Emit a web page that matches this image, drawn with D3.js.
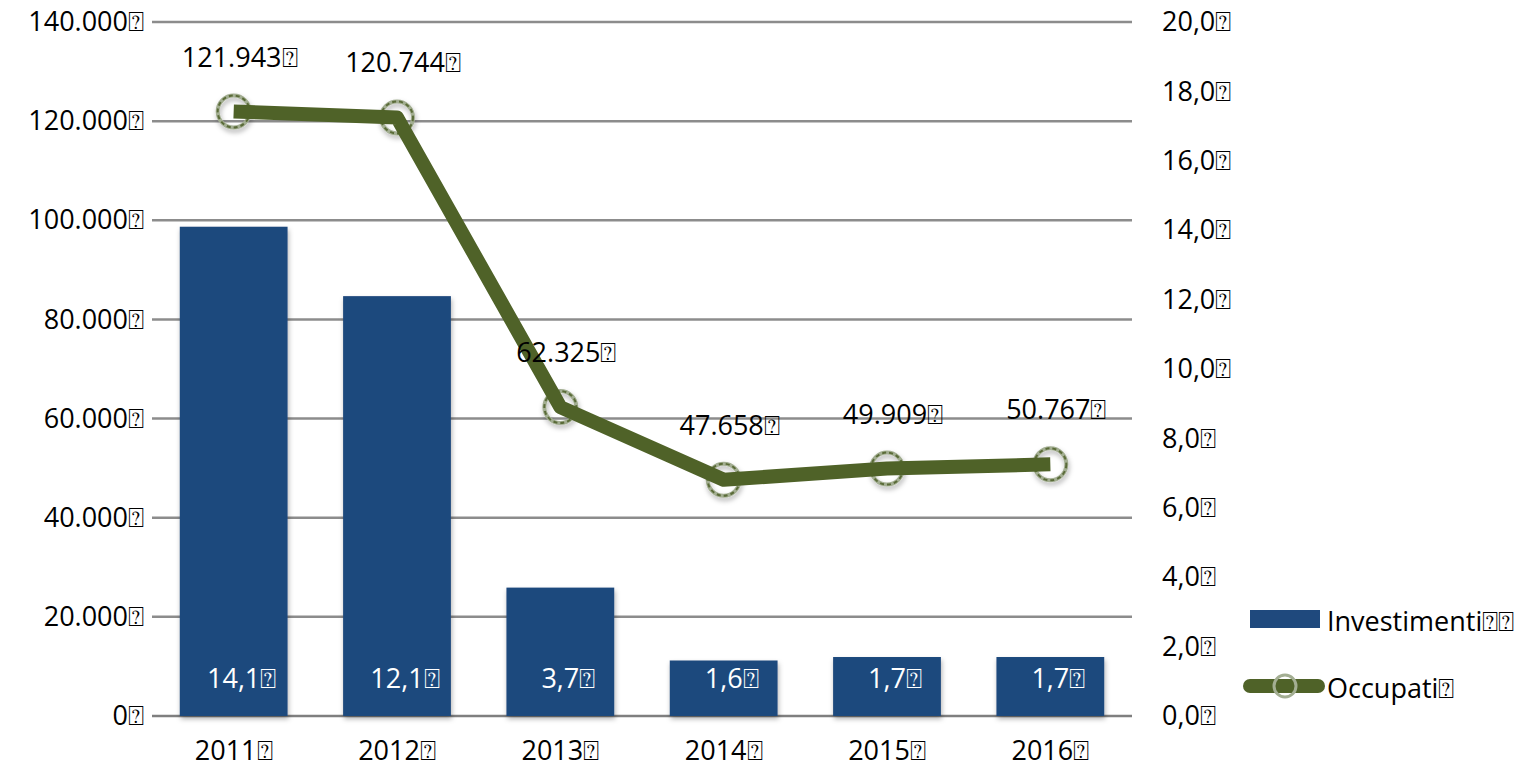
<!DOCTYPE html>
<html>
<head>
<meta charset="utf-8">
<script src="https://cdn.jsdelivr.net/npm/d3@7"></script>
<style>
  body { margin: 0; background: #fff; }
  svg text { font-family: "Open Sans", sans-serif; fill: #000; }
</style>
</head>
<body>
<svg id="chart" width="1517" height="771"></svg>
<script>
// chart data
const years = ['2011', '2012', '2013', '2014', '2015', '2016'];
const investimenti = [14.1, 12.1, 3.7, 1.6, 1.7, 1.7];
const occupati = [121943, 120744, 62325, 47658, 49909, 50767];
const leftTicks = [0, 20000, 40000, 60000, 80000, 100000, 120000, 140000];
const rightTicks = [0, 2, 4, 6, 8, 10, 12, 14, 16, 18, 20];
const seriesNames = ['Investimenti', 'Occupati'];

const BOX = '\u2370';
const it = d3.formatLocale({ decimal: ',', thousands: '.', grouping: [3], currency: ['€', ''] });
const fmtInt = it.format(',.0f');
const fmtDec = it.format(',.1f');
const FS = '27px';

const margin = { top: 22, left: 152, right: 385, bottom: 55 };
const width = 1517, height = 771;
const svg = d3.select('#chart');

const defs = svg.append('defs');
const shadow = defs.append('filter').attr('id', 'shadow')
  .attr('x', '-30%').attr('y', '-30%').attr('width', '160%').attr('height', '160%');
shadow.append('feDropShadow').attr('dx', 1).attr('dy', 3).attr('stdDeviation', 2.5)
  .attr('flood-color', '#000').attr('flood-opacity', 0.3);

const x = d3.scaleBand()
  .domain(years)
  .range([margin.left, width - margin.right])
  .paddingInner(0.34).paddingOuter(0.17);

const yLeft = d3.scaleLinear().domain([0, 140000]).range([height - margin.bottom, margin.top]);
const yRight = d3.scaleLinear().domain([0, 20]).range([height - margin.bottom, margin.top]);

// gridlines
svg.append('g')
  .selectAll('line')
  .data(leftTicks)
  .join('line')
  .attr('x1', margin.left).attr('x2', width - margin.right)
  .attr('y1', d => yLeft(d)).attr('y2', d => yLeft(d))
  .attr('stroke', d => d === 0 ? '#7f7f7f' : '#8c8c8c')
  .attr('stroke-width', 2.5);

// left axis
const leftAxis = svg.append('g')
  .attr('transform', `translate(${margin.left},0)`)
  .call(d3.axisLeft(yLeft).tickValues(leftTicks).tickSize(0).tickPadding(8)
    .tickFormat(d => fmtInt(d) + BOX));
leftAxis.select('.domain').remove();
leftAxis.selectAll('text').style('font-size', FS).attr('fill', '#000');

// right axis
const rightAxis = svg.append('g')
  .attr('transform', `translate(${width - margin.right},0)`)
  .call(d3.axisRight(yRight).tickValues(rightTicks).tickSize(0).tickPadding(30)
    .tickFormat(d => fmtDec(d) + BOX));
rightAxis.select('.domain').remove();
rightAxis.selectAll('text').style('font-size', FS).attr('fill', '#000');

// x axis
const xAxis = svg.append('g')
  .attr('transform', `translate(0,${height - margin.bottom})`)
  .call(d3.axisBottom(x).tickSize(0).tickPadding(25).tickFormat(d => d + BOX));
xAxis.select('.domain').remove();
xAxis.selectAll('text').style('font-size', FS).attr('fill', '#000');

// bars
svg.append('g')
  .selectAll('rect')
  .data(investimenti)
  .join('rect')
  .attr('x', (d, i) => x(years[i]))
  .attr('y', d => yRight(d))
  .attr('width', x.bandwidth())
  .attr('height', d => yRight(0) - yRight(d))
  .attr('fill', '#1f497d')
  .attr('filter', 'url(#shadow)');

svg.append('g')
  .selectAll('text')
  .data(investimenti)
  .join('text')
  .attr('x', (d, i) => x(years[i]) + x.bandwidth() / 2 + 8)
  .attr('y', height - margin.bottom - 28)
  .attr('text-anchor', 'middle')
  .style('font-size', FS)
  .style('fill', '#fff')
  .text(d => fmtDec(d) + BOX);

// line markers
const cx = (d, i) => x(years[i]) + x.bandwidth() / 2;
const markers = svg.append('g');
markers.selectAll('circle.ring')
  .data(occupati)
  .join('circle')
  .attr('class', 'ring')
  .attr('cx', cx).attr('cy', d => yLeft(d)).attr('r', 16)
  .attr('fill', 'none')
  .attr('stroke', '#a3ae92').attr('stroke-width', 4)
  .attr('filter', 'url(#shadow)');
markers.selectAll('circle.dash')
  .data(occupati)
  .join('circle')
  .attr('class', 'dash')
  .attr('cx', cx).attr('cy', d => yLeft(d)).attr('r', 16)
  .attr('fill', 'none')
  .attr('stroke', '#5a6b38').attr('stroke-width', 2)
  .attr('stroke-dasharray', '4 3');

// line
const line = d3.line()
  .x((d, i) => cx(d, i))
  .y(d => yLeft(d));
svg.append('path')
  .datum(occupati)
  .attr('d', line)
  .attr('fill', 'none')
  .attr('stroke', '#4f6228')
  .attr('stroke-width', 14)
  .attr('stroke-linejoin', 'round');

// line labels
svg.append('g')
  .selectAll('text')
  .data(occupati)
  .join('text')
  .attr('x', (d, i) => cx(d, i) + 6)
  .attr('y', d => yLeft(d) - 45)
  .attr('text-anchor', 'middle')
  .style('font-size', FS)
  .text(d => fmtInt(d) + BOX);

// legend
const legend = svg.append('g');
legend.append('rect')
  .attr('x', 1250).attr('y', 610).attr('width', 70).attr('height', 18)
  .attr('fill', '#1f497d');
legend.append('text')
  .attr('x', 1327).attr('y', 631)
  .style('font-size', FS)
  .text(seriesNames[0] + BOX + BOX);
legend.append('line')
  .attr('x1', 1250).attr('x2', 1318).attr('y1', 686).attr('y2', 686)
  .attr('stroke', '#4f6228').attr('stroke-width', 14).attr('stroke-linecap', 'round');
legend.append('circle')
  .attr('cx', 1285).attr('cy', 686).attr('r', 11)
  .attr('fill', 'none').attr('stroke', '#a3ae92').attr('stroke-width', 3);
legend.append('text')
  .attr('x', 1327).attr('y', 698)
  .style('font-size', FS)
  .text(seriesNames[1] + BOX);
</script>
</body>
</html>
